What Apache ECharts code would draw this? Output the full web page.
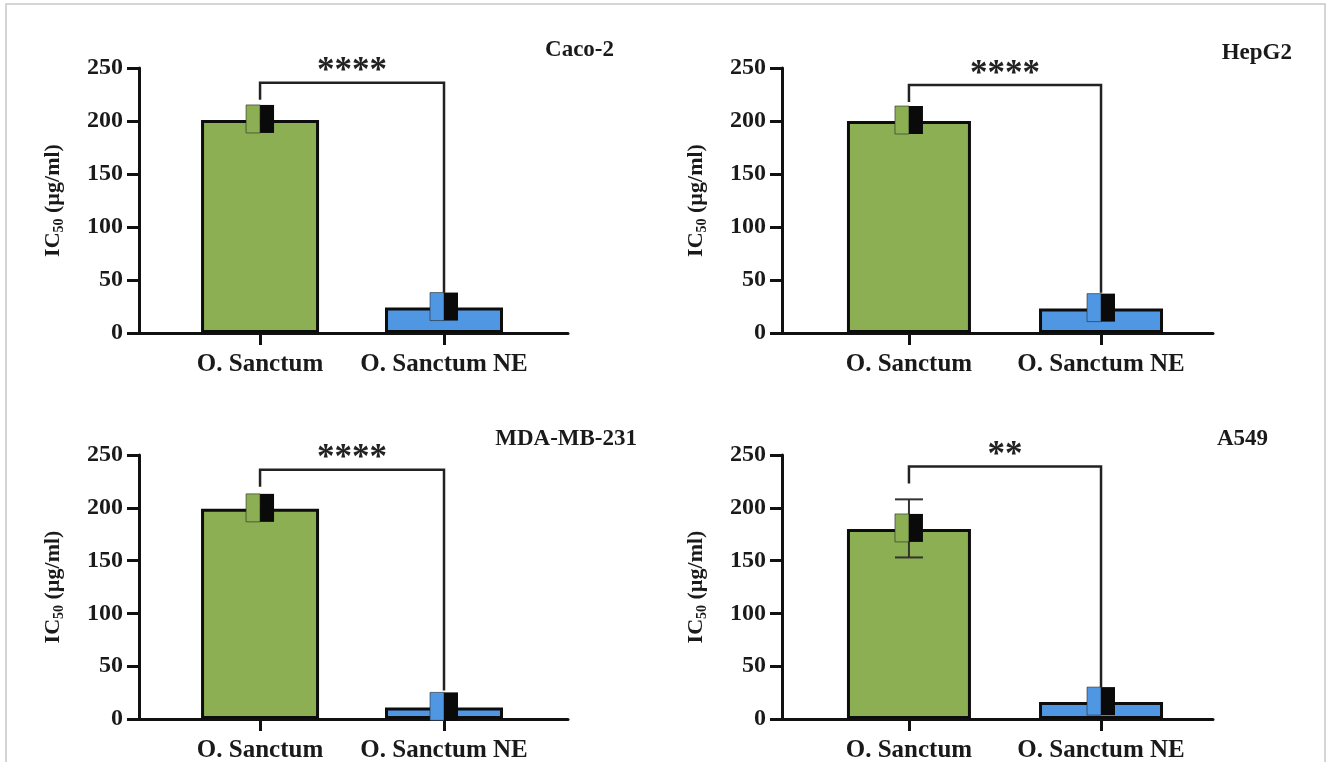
<!DOCTYPE html>
<html lang="en">
<head>
    <meta charset="UTF-8">
    <title>IC50 O. Sanctum</title>
    <style>
        html, body { margin: 0; padding: 0; background: #fff; }
        #chart { width: 1330px; height: 762px; }
    </style>
</head>
<body>
<div id="chart"></div>
<script src="https://cdn.jsdelivr.net/npm/echarts@6/dist/echarts.min.js"></script>
<script type="text/javascript">
    // data
    var categories = ['O. Sanctum', 'O. Sanctum NE'];
    var cellLines = ['Caco-2', 'HepG2', 'MDA-MB-231', 'A549'];
    var caco2Mean = [201, 24];
    var hepg2Mean = [200, 23];
    var mdaMean = [199, 11];
    var a549Mean = [180, 16];
    var a549ErrLow = [153, null];
    var a549ErrHigh = [208, null];
    var stars = ['****', '****', '****', '**'];
    var bracketTop = [236, 234, 236, 239];
    var bracketLeftFoot = [220, 218, 220, 223];
    var bracketRightFoot = [38, 38, 27, 30];
    var yTicks = [0, 50, 100, 150, 200, 250];

    var means = [caco2Mean, hepg2Mean, mdaMean, a549Mean];
    var errLow = [[null, null], [null, null], [null, null], a549ErrLow];
    var errHigh = [[null, null], [null, null], [null, null], a549ErrHigh];

    var FONT = '"Times New Roman", "Liberation Serif", serif';
    var barColors = ['#8BAF52', '#4F97E2'];

    // panel geometry (pixels) and x extent in category units
    var panels = [
        {left: 139, top: 68, width: 429, height: 265, xMin: -0.658, xMax: 1.674, barW: 118, titleRight: 716, titleTop: 39},
        {left: 782, top: 68, width: 431, height: 265, xMin: -0.661, xMax: 1.583, barW: 124, titleRight: 38, titleTop: 42},
        {left: 139, top: 455, width: 429, height: 264, xMin: -0.658, xMax: 1.674, barW: 118, titleRight: 693, titleTop: 428},
        {left: 782, top: 455, width: 431, height: 264, xMin: -0.661, xMax: 1.583, barW: 124, titleRight: 62, titleTop: 428}
    ];

    var chart = echarts.init(document.getElementById('chart'));

    var grids = [], xAxes = [], yAxes = [], series = [], titles = [];

    function renderMarker(params, api) {
        var x = api.value(0), y = api.value(1), ci = api.value(2);
        var lo = api.value(3), hi = api.value(4);
        var c = api.coord([x, y]);
        var s = 14;
        var kids = [];
        if (!isNaN(lo) && !isNaN(hi)) {
            var pLo = api.coord([x, lo]), pHi = api.coord([x, hi]);
            var ls = {stroke: '#333', lineWidth: 2};
            kids.push({type: 'line', shape: {x1: c[0], y1: pLo[1], x2: c[0], y2: pHi[1]}, style: ls});
            kids.push({type: 'line', shape: {x1: c[0] - s, y1: pLo[1], x2: c[0] + s, y2: pLo[1]}, style: ls});
            kids.push({type: 'line', shape: {x1: c[0] - s, y1: pHi[1], x2: c[0] + s, y2: pHi[1]}, style: ls});
        }
        kids.push({
            type: 'rect', shape: {x: c[0] - s, y: c[1] - s - 1, width: s, height: 2 * s},
            style: {fill: barColors[ci], stroke: 'rgba(40,40,40,0.6)', lineWidth: 1}
        });
        kids.push({
            type: 'rect', shape: {x: c[0], y: c[1] - s - 1, width: s, height: 2 * s},
            style: {fill: '#0a0a0a'}
        });
        return {type: 'group', children: kids};
    }

    function renderBracket(params, api) {
        var pL = api.coord([api.value(0), api.value(2)]);
        var pR = api.coord([api.value(1), api.value(2)]);
        var fL = api.coord([api.value(0), api.value(3)]);
        var fR = api.coord([api.value(1), api.value(4)]);
        return {
            type: 'group',
            children: [{
                type: 'polyline',
                shape: {points: [[pL[0], fL[1]], [pL[0], pL[1]], [pR[0], pR[1]], [pR[0], fR[1]]]},
                style: {stroke: '#222', lineWidth: 2.5, fill: null}
            }, {
                type: 'text',
                x: (pL[0] + pR[0]) / 2, y: pL[1] + 7,
                style: {
                    text: stars[api.value(5)],
                    fontFamily: FONT, fontWeight: 'bold', fontSize: 35, fill: '#222',
                    align: 'center', verticalAlign: 'bottom'
                }
            }]
        };
    }

    for (var i = 0; i < 4; i++) {
        var p = panels[i];
        grids.push({left: p.left, top: p.top, width: p.width, height: p.height, outerBoundsMode: 'none'});
        titles.push({
            text: cellLines[i], right: p.titleRight, top: p.titleTop, padding: 0,
            textStyle: {fontFamily: FONT, fontWeight: 'bold', fontSize: 23, color: '#1a1a1a'}
        });
        xAxes.push({
            type: 'value', gridIndex: i, min: p.xMin, max: p.xMax,
            axisLine: {onZero: false, lineStyle: {color: '#111', width: 3}},
            axisTick: {customValues: [0, 1], length: 12, lineStyle: {color: '#111', width: 3}},
            axisLabel: {
                customValues: [0, 1], margin: 19,
                formatter: function (v) { return categories[Math.round(v)]; },
                fontFamily: FONT, fontWeight: 'bold', fontSize: 25, color: '#1a1a1a'
            },
            splitLine: {show: false}
        });
        yAxes.push({
            type: 'value', gridIndex: i, min: yTicks[0], max: yTicks[yTicks.length - 1], interval: 50,
            name: 'IC{sub|50} (µg/ml)', nameLocation: 'middle', nameGap: 73,
            nameTextStyle: {
                fontFamily: FONT, fontWeight: 'bold', fontSize: 22, color: '#1a1a1a',
                rich: {sub: {fontFamily: FONT, fontWeight: 'bold', fontSize: 14, color: '#1a1a1a', verticalAlign: 'bottom', lineHeight: 26}}
            },
            axisLine: {show: true, onZero: false, lineStyle: {color: '#111', width: 3}},
            axisTick: {show: true, length: 12, lineStyle: {color: '#111', width: 3}},
            axisLabel: {margin: 16, fontFamily: FONT, fontWeight: 'bold', fontSize: 24, color: '#1a1a1a'},
            splitLine: {show: false}
        });

        series.push({
            type: 'bar', xAxisIndex: i, yAxisIndex: i, barWidth: p.barW, silent: true, z: 2,
            data: means[i].map(function (v, k) {
                return {value: [k, v], itemStyle: {color: barColors[k], borderColor: '#0d0d0d', borderWidth: 3}};
            })
        });
        series.push({
            type: 'custom', xAxisIndex: i, yAxisIndex: i, renderItem: renderMarker, clip: false, silent: true, z: 6,
            data: means[i].map(function (v, k) {
                return [k, v, k, errLow[i][k] === null ? NaN : errLow[i][k], errHigh[i][k] === null ? NaN : errHigh[i][k]];
            })
        });
        series.push({
            type: 'custom', xAxisIndex: i, yAxisIndex: i, renderItem: renderBracket, clip: false, silent: true, z: 6,
            data: [[0, 1, bracketTop[i], bracketLeftFoot[i], bracketRightFoot[i], i]]
        });
    }

    chart.setOption({
        backgroundColor: '#fff',
        animation: false,
        title: titles,
        grid: grids,
        xAxis: xAxes,
        yAxis: yAxes,
        series: series,
        graphic: [{
            type: 'rect', shape: {x: 6, y: 4, width: 1319, height: 780},
            style: {fill: null, stroke: '#c8c8c8', lineWidth: 1.5}, silent: true
        }]
    });
</script>
</body>
</html>
